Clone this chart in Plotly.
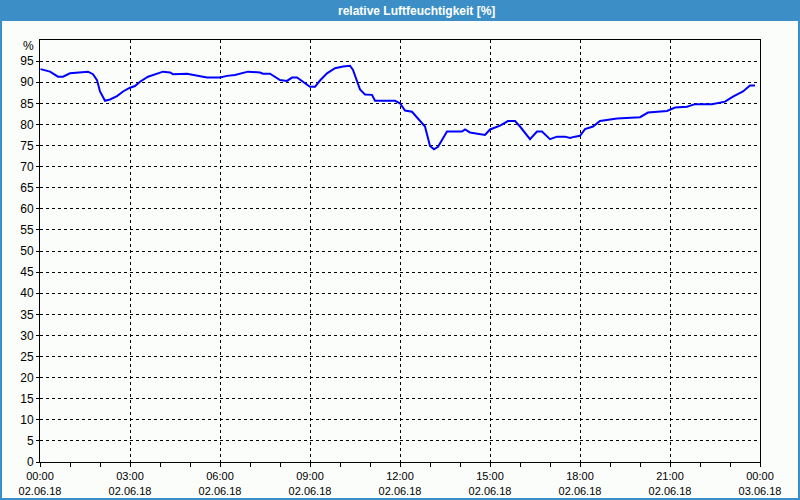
import plotly.graph_objects as go

# ---- data ----
times = ["00:01","00:20","00:36","00:46","01:00","01:20","01:36","01:46","01:54","02:00",
         "02:10","02:20","02:34","02:46","03:00","03:10","03:20","03:36","03:54","04:06",
         "04:20","04:26","04:54","05:06","05:20","05:34","06:00","06:14","06:30","06:44",
         "06:56","07:20","07:26","07:40","07:46","08:00","08:14","08:24","08:34","08:46",
         "09:00","09:10","09:20","09:34","09:50","10:06","10:20","10:26","10:40","10:50",
         "11:04","11:10","11:50","12:00","12:10","12:24","12:44","12:50","13:00","13:08",
         "13:16","13:26","13:34","14:04","14:10","14:20","14:34","14:50","15:00","15:20",
         "15:36","15:50","16:00","16:20","16:34","16:44","17:00","17:14","17:30","17:40",
         "17:50","18:00","18:10","18:26","18:40","18:54","19:14","20:00","20:16","20:54",
         "21:10","21:34","21:50","22:24","22:34","22:50","23:06","23:26","23:40","23:50"]
humidity = [93.1,92.5,91.3,91.3,92.1,92.3,92.5,91.9,90.5,87.8,
            85.6,85.9,86.7,87.8,88.7,89.1,90.1,91.3,92.1,92.5,
            92.3,91.9,92.0,91.7,91.5,91.1,91.1,91.5,91.7,92.2,
            92.5,92.3,92.0,92.0,91.5,90.5,90.3,91.1,91.1,90.0,
            88.9,88.9,90.4,92.1,93.3,93.7,93.9,92.9,88.3,87.1,
            87.0,85.6,85.6,85.0,83.3,83.0,80.4,79.5,74.9,74.1,
            74.7,76.7,78.3,78.3,78.8,78.1,77.9,77.5,78.8,79.7,
            80.8,80.8,79.5,76.5,78.3,78.3,76.5,77.1,77.1,76.8,
            77.1,77.3,78.9,79.5,80.8,81.0,81.4,81.7,82.8,83.2,
            84.0,84.2,84.8,84.8,85.1,85.4,86.6,87.8,89.2,89.2]
x_vals = ["2018-06-02 " + t for t in times]

tick_hours = ["2018-06-02 00:00","2018-06-02 03:00","2018-06-02 06:00","2018-06-02 09:00",
              "2018-06-02 12:00","2018-06-02 15:00","2018-06-02 18:00","2018-06-02 21:00",
              "2018-06-03 00:00"]
tick_labels = ["00:00<br>02.06.18","03:00<br>02.06.18","06:00<br>02.06.18","09:00<br>02.06.18",
               "12:00<br>02.06.18","15:00<br>02.06.18","18:00<br>02.06.18","21:00<br>02.06.18",
               "00:00<br>03.06.18"]
y_ticks = list(range(0, 100, 5))
y_labels = [str(v) for v in y_ticks]
y_unit = "%"

title_text = "relative Luftfeuchtigkeit [%]"

# ---- layout helpers (pixel -> paper) ----
W, H = 800, 500
L, R, T, B = 40, 40, 40, 38
pw, ph = W - L - R, H - T - B
def px(x): return (x - L) / pw
def py(y): return (H - B - y) / ph

BLUE = "#3c8fc6"
FONT = "Liberation Sans"

fig = go.Figure()
fig.add_trace(go.Scatter(x=x_vals, y=humidity, mode="lines",
                         line=dict(color="#0000ff", width=2), hoverinfo="skip"))

fig.update_layout(
    width=W, height=H,
    margin=dict(l=L, r=R, t=T, b=B, autoexpand=False),
    paper_bgcolor="#fbfdfb", plot_bgcolor="#fbfdfb",
    showlegend=False,
    font=dict(family=FONT, size=11, color="#000000"),
    shapes=[
        dict(type="rect", xref="paper", yref="paper", x0=px(0), x1=px(800), y0=py(21), y1=py(0),
             fillcolor=BLUE, line=dict(width=0), layer="below"),
        dict(type="rect", xref="paper", yref="paper", x0=px(1), x1=px(799), y0=py(499), y1=py(20),
             fillcolor="rgba(0,0,0,0)", line=dict(color=BLUE, width=2), layer="above"),
    ],
    annotations=[
        dict(text="<b>" + title_text + "</b>", xref="paper", yref="paper",
             x=px(416), y=py(11), showarrow=False, xanchor="center", yanchor="middle",
             font=dict(family=FONT, size=12, color="white")),
        dict(text=y_unit, xref="paper", yref="paper",
             x=px(36), y=py(46), showarrow=False, xanchor="right", yanchor="middle",
             font=dict(family=FONT, size=12, color="black")),
    ],
)

fig.update_xaxes(
    range=["2018-06-02 00:00", "2018-06-03 00:00"],
    tickvals=tick_hours, ticktext=tick_labels,
    ticks="outside", ticklen=4, tickcolor="black",
    showline=True, linecolor="black", linewidth=1, mirror=True,
    showgrid=True, gridcolor="black", gridwidth=1, griddash="3px,3px",
    minor=dict(dtick=3600000, ticks="outside", ticklen=4, tickcolor="black", showgrid=False),
    zeroline=False, tickfont=dict(family=FONT, size=11), automargin=False,
)
fig.update_yaxes(
    range=[0, 100], tickvals=y_ticks, ticktext=y_labels,
    ticks="outside", ticklen=3, tickcolor="black",
    showline=True, linecolor="black", linewidth=1, mirror=True,
    showgrid=True, gridcolor="black", gridwidth=1, griddash="3px,3px",
    zeroline=False, tickfont=dict(family=FONT, size=12), automargin=False,
)

fig.write_html("out.html")
